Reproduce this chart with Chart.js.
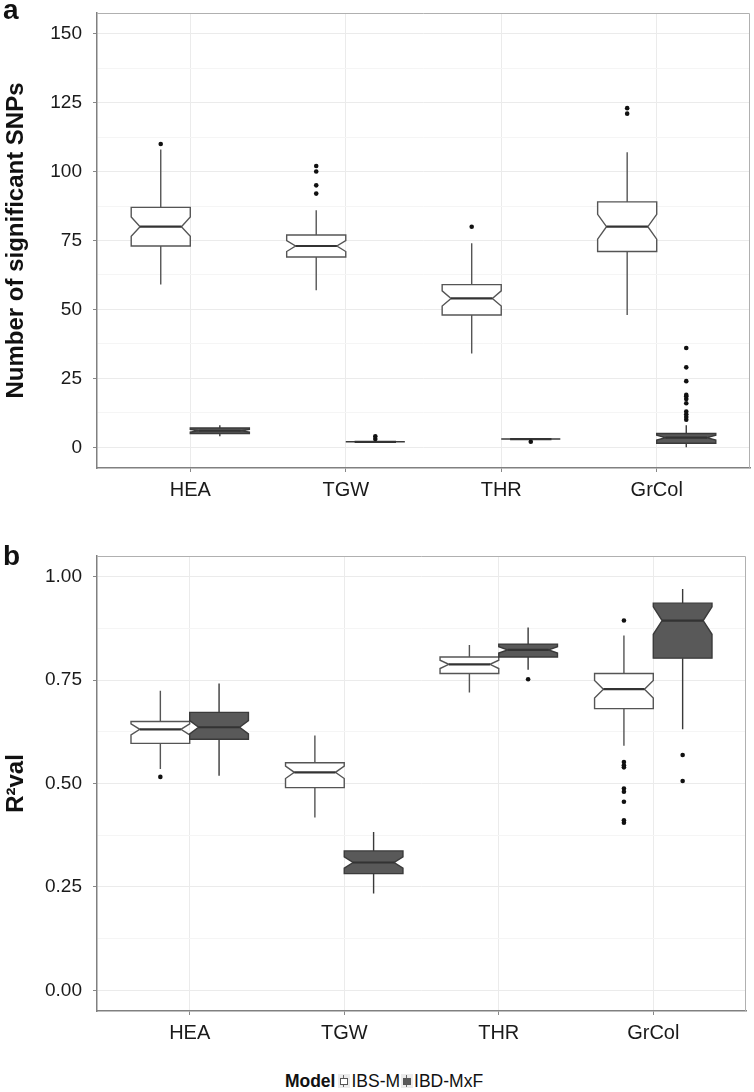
<!DOCTYPE html>
<html>
<head>
<meta charset="utf-8">
<script src="https://cdn.jsdelivr.net/npm/chart.js@4.4.1/dist/chart.umd.min.js"></script>
<style>
  body { margin: 0; background: #fff; }
  #wrap { position: relative; width: 754px; height: 1092px; font-family: 'Liberation Sans', Arial, sans-serif; color: #111; }
  canvas { position: absolute; left: 0; }
  .tag { position: absolute; left: 3px; font-weight: bold; font-size: 28px; line-height: 1; }
  #legend { position: absolute; top: 1071px; left: 0; width: 768px; text-align: center; font-size: 17.5px; white-space: nowrap; }
  #legend b { margin-right: 2px; }
  .key { display: inline-block; position: relative; width: 12px; height: 14px; background: #ebebeb; vertical-align: -1px; margin: 0 1px; }
  .key i { position: absolute; left: 5px; top: 1px; width: 1px; height: 12px; background: #666; }
  .key s { position: absolute; left: 2px; top: 4px; width: 6px; height: 5px; border: 1px solid #555; }
</style>
</head>
<body>
<div id="wrap">
  <canvas id="chartA" width="754" height="510" style="top:0"></canvas>
  <canvas id="chartB" width="754" height="545" style="top:500px"></canvas>
  <div class="tag" style="top:-4px">a</div>
  <div class="tag" style="top:542px">b</div>
  <div id="legend"><b>Model</b><span class="key"><i></i><s style="background:#fff"></s></span>IBS-M<span class="key"><i></i><s style="background:#595959"></s></span>IBD-MxF</div>
</div>
<script>
const categories = ['HEA', 'TGW', 'THR', 'GrCol'];
const models = ['IBS-M', 'IBD-MxF'];
const nRuns = 40;

// [lower whisker, Q1, median, Q3, upper whisker] per trait
const snpIbsM = [[59, 73, 80, 87, 108], [57, 69, 73, 77, 86], [34, 48, 54, 59, 74], [48, 71, 80, 89, 107]];
const snpIbdMxF = [[4, 5, 6, 7, 8], [2, 2, 2, 2, 2], [3, 3, 3, 3, 3], [0, 1.5, 3.5, 5, 8]];
const snpOutIbsM = [[110], [92, 95, 100, 102], [80], [121, 123]];
const snpOutIbdMxF = [[], [3, 4], [2], [10, 11, 12, 13, 16, 17.5, 18.5, 19, 24, 29, 36]];

const r2IbsM = [[0.535, 0.597, 0.631, 0.650, 0.724], [0.418, 0.490, 0.527, 0.550, 0.616], [0.720, 0.766, 0.788, 0.806, 0.835], [0.591, 0.681, 0.728, 0.766, 0.858]];
const r2IbdMxF = [[0.519, 0.607, 0.636, 0.672, 0.742], [0.234, 0.282, 0.309, 0.337, 0.383], [0.775, 0.806, 0.823, 0.837, 0.877], [0.631, 0.803, 0.894, 0.936, 0.970]];
const r2OutIbsM = [[0.516], [], [], [0.894, 0.552, 0.544, 0.539, 0.488, 0.480, 0.456, 0.411, 0.405]];
const r2OutIbdMxF = [[], [], [0.752], [0.569, 0.506]];

const snpTicks = [0, 25, 50, 75, 100, 125, 150];
const r2Ticks = [0, 0.25, 0.5, 0.75, 1];

const fillColors = ['#ffffff', '#595959'];
const lineColors = ['#555555', '#3a3a3a'];
const dodge = [-0.19, 0.19];
const boxWidth = 0.38;
const font = "'Liberation Sans', Arial, sans-serif";

function boxPlugin(groups) {
  return {
    id: 'notchedBoxes',
    beforeDatasetsDraw(chart) {
      const { ctx, scales: { x, y } } = chart;
      const halfW = x.getPixelForValue(boxWidth / 2) - x.getPixelForValue(0);
      ctx.save();
      groups.forEach((stats, gi) => {
        stats.forEach((s, ci) => {
          const [lo, q1, med, q3, hi] = s;
          const cx = x.getPixelForValue(ci + dodge[gi]);
          const L = cx - halfW, R = cx + halfW;
          const notch = 1.58 * (q3 - q1) / Math.sqrt(nRuns);
          const d = halfW * 0.3;
          const pQ1 = y.getPixelForValue(q1), pQ3 = y.getPixelForValue(q3), pMed = y.getPixelForValue(med);
          const pHi = y.getPixelForValue(med + notch), pLo = y.getPixelForValue(med - notch);
          ctx.strokeStyle = lineColors[gi];
          ctx.lineWidth = 1.4;
          ctx.beginPath();
          ctx.moveTo(cx, pQ3); ctx.lineTo(cx, y.getPixelForValue(hi));
          ctx.moveTo(cx, pQ1); ctx.lineTo(cx, y.getPixelForValue(lo));
          ctx.stroke();
          ctx.beginPath();
          ctx.moveTo(L, pQ3); ctx.lineTo(L, pHi); ctx.lineTo(L + d, pMed); ctx.lineTo(L, pLo); ctx.lineTo(L, pQ1);
          ctx.lineTo(R, pQ1); ctx.lineTo(R, pLo); ctx.lineTo(R - d, pMed); ctx.lineTo(R, pHi); ctx.lineTo(R, pQ3);
          ctx.closePath();
          ctx.fillStyle = fillColors[gi];
          ctx.fill();
          ctx.stroke();
          ctx.lineWidth = 2.2;
          ctx.strokeStyle = '#333333';
          ctx.beginPath();
          ctx.moveTo(L + d, pMed); ctx.lineTo(R - d, pMed);
          ctx.stroke();
        });
      });
      ctx.restore();
    },
    afterDraw(chart) {
      const { ctx, chartArea: a } = chart;
      ctx.save();
      ctx.strokeStyle = '#b0b0b0';
      ctx.lineWidth = 1;
      ctx.beginPath();
      ctx.moveTo(a.left, a.top + 0.5); ctx.lineTo(a.right - 0.5, a.top + 0.5); ctx.lineTo(a.right - 0.5, a.bottom);
      ctx.stroke();
      ctx.restore();
    }
  };
}

function outlierPoints(outs, gi) {
  const pts = [];
  outs.forEach((vals, ci) => vals.forEach(v => pts.push({ x: ci + dodge[gi], y: v })));
  return pts;
}

function makeChart(id, cfg) {
  const step = (cfg.ticks[1] - cfg.ticks[0]) / 2;
  const allTicks = [];
  for (let i = 0; i <= (cfg.ticks.length - 1) * 2; i++) allTicks.push(+(cfg.ticks[0] + i * step).toFixed(4));
  const isMajor = v => cfg.ticks.some(t => Math.abs(t - v) < 1e-6);
  return new Chart(document.getElementById(id), {
    type: 'scatter',
    data: {
      datasets: [0, 1].map(gi => ({
        label: models[gi],
        data: outlierPoints(cfg.outliers[gi], gi),
        pointRadius: 2.3,
        pointBackgroundColor: '#111',
        pointBorderWidth: 0
      }))
    },
    options: {
      responsive: false,
      animation: false,
      events: [],
      layout: { padding: cfg.padding },
      plugins: { legend: { display: false }, tooltip: { enabled: false } },
      scales: {
        x: {
          type: 'linear', min: -0.6, max: 3.6,
          afterBuildTicks: s => { s.ticks = categories.map((c, i) => ({ value: i })); },
          afterFit: s => { s.height = cfg.xHeight; s.paddingLeft = 0; s.paddingRight = 0; },
          ticks: { callback: v => categories[v], color: '#1a1a1a', font: { family: font, size: 20 }, padding: 6, maxRotation: 0 },
          grid: { color: '#ebebeb', tickLength: 4, tickColor: '#888' },
          border: { color: '#808080', width: 1.5 }
        },
        y: {
          min: cfg.min, max: cfg.max,
          afterBuildTicks: s => { s.ticks = allTicks.map(v => ({ value: v })); },
          afterFit: s => { s.width = 97; s.paddingTop = 0; s.paddingBottom = 0; },
          ticks: { callback: v => isMajor(v) ? cfg.fmt(v) : '', color: '#1a1a1a', font: { family: font, size: 19 }, padding: 11 },
          grid: {
            color: c => c.tick && isMajor(c.tick.value) ? '#ebebeb' : '#f5f5f5',
            tickLength: 4,
            tickColor: c => c.tick && isMajor(c.tick.value) ? '#888' : 'rgba(0,0,0,0)'
          },
          border: { color: '#808080', width: 1.5 },
          title: { display: true, text: cfg.title, color: '#111', font: { family: font, size: 24, weight: 'bold' }, padding: { top: 2, bottom: 0 } }
        }
      }
    },
    plugins: [boxPlugin(cfg.stats)]
  });
}

makeChart('chartA', {
  stats: [snpIbsM, snpIbdMxF],
  outliers: [snpOutIbsM, snpOutIbdMxF],
  ticks: snpTicks, min: -7.5, max: 157.5,
  fmt: v => String(v),
  title: 'Number of significant SNPs',
  padding: { left: 0, top: 13, right: 3, bottom: 0 },
  xHeight: 42
});

makeChart('chartB', {
  stats: [r2IbsM, r2IbdMxF],
  outliers: [r2OutIbsM, r2OutIbdMxF],
  ticks: r2Ticks, min: -0.05, max: 1.05,
  fmt: v => v.toFixed(2),
  title: 'R²val',
  padding: { left: 0, top: 56, right: 8, bottom: 0 },
  xHeight: 34
});
</script>
</body>
</html>
